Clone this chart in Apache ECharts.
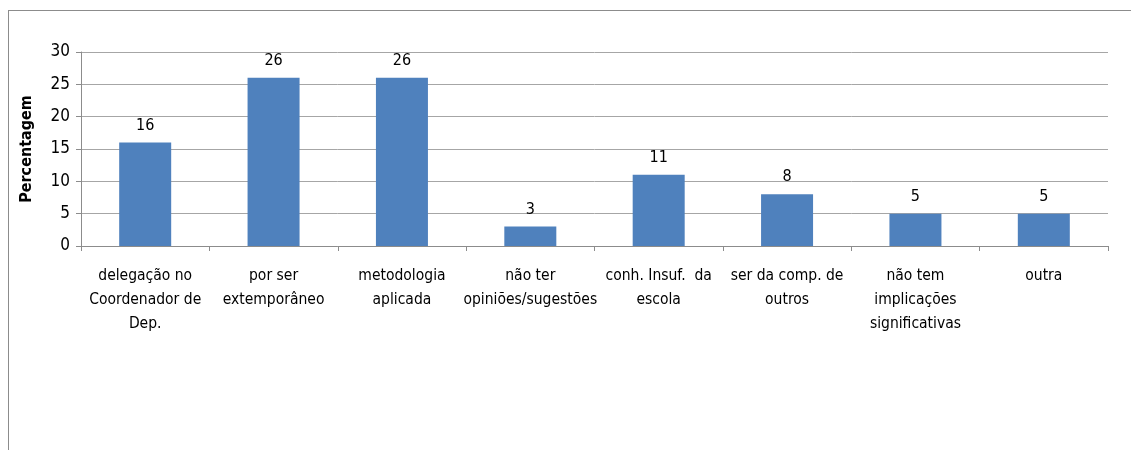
<!DOCTYPE html>
<html>
<head>
<meta charset="utf-8">
<script src="https://cdn.jsdelivr.net/npm/echarts@6/dist/echarts.min.js"></script>
<style>
  html, body { margin: 0; padding: 0; background: #fff; overflow: hidden; width: 1131px; height: 450px; }
  .frame {
    position: absolute; left: 8px; top: 10px; width: 1300px; height: 600px;
    border: 1px solid #8c8c8c;
  }
  #chart { position: absolute; left: 0; top: 0; width: 1131px; height: 450px; }
</style>
</head>
<body>
<div class="frame"></div>
<div id="chart"></div>
<script>
const categories = [
  'delegação no\nCoordenador de\nDep.',
  'por ser\nextemporâneo',
  'metodologia\naplicada',
  'não ter\nopiniões/sugestões',
  'conh. Insuf.  da\nescola',
  'ser da comp. de\noutros',
  'não tem\nimplicações\nsignificativas',
  'outra'
]
const values = [16, 26, 26, 3, 11, 8, 5, 5]
const yAxisName = 'Percentagem'

const font = '"Liberation Sans Narrow", "DejaVu Sans Condensed", "Liberation Sans", sans-serif'
const chart = echarts.init(document.getElementById('chart'))

chart.setOption({
  animation: false,
  grid: { left: 81, right: 23, top: 52, bottom: 204 },
  xAxis: {
    type: 'category',
    data: categories,
    axisLine: { lineStyle: { color: '#8c8c8c', width: 1 } },
    axisTick: { show: true, length: 5, lineStyle: { color: '#8c8c8c' } },
    axisLabel: {
      color: '#000', fontFamily: font, fontSize: 15.5, lineHeight: 24,
      margin: 18, interval: 0
    }
  },
  yAxis: {
    type: 'value',
    min: 0, max: 30, interval: 5,
    name: yAxisName,
    nameLocation: 'middle',
    nameGap: 46,
    nameTextStyle: { color: '#000', fontFamily: font, fontSize: 16, fontWeight: 'bold' },
    axisLine: { show: true, lineStyle: { color: '#8c8c8c' } },
    axisTick: { show: true, length: 5, lineStyle: { color: '#8c8c8c' } },
    axisLabel: { color: '#000', fontFamily: font, fontSize: 17, margin: 11 },
    splitLine: { lineStyle: { color: '#a6a6a6', width: 1 } }
  },
  series: [{
    type: 'bar',
    data: values,
    barWidth: 52,
    itemStyle: { color: '#4f81bd' },
    label: {
      show: true, position: 'top', distance: 9,
      color: '#000', fontFamily: font, fontSize: 16
    }
  }]
})
</script>
</body>
</html>
